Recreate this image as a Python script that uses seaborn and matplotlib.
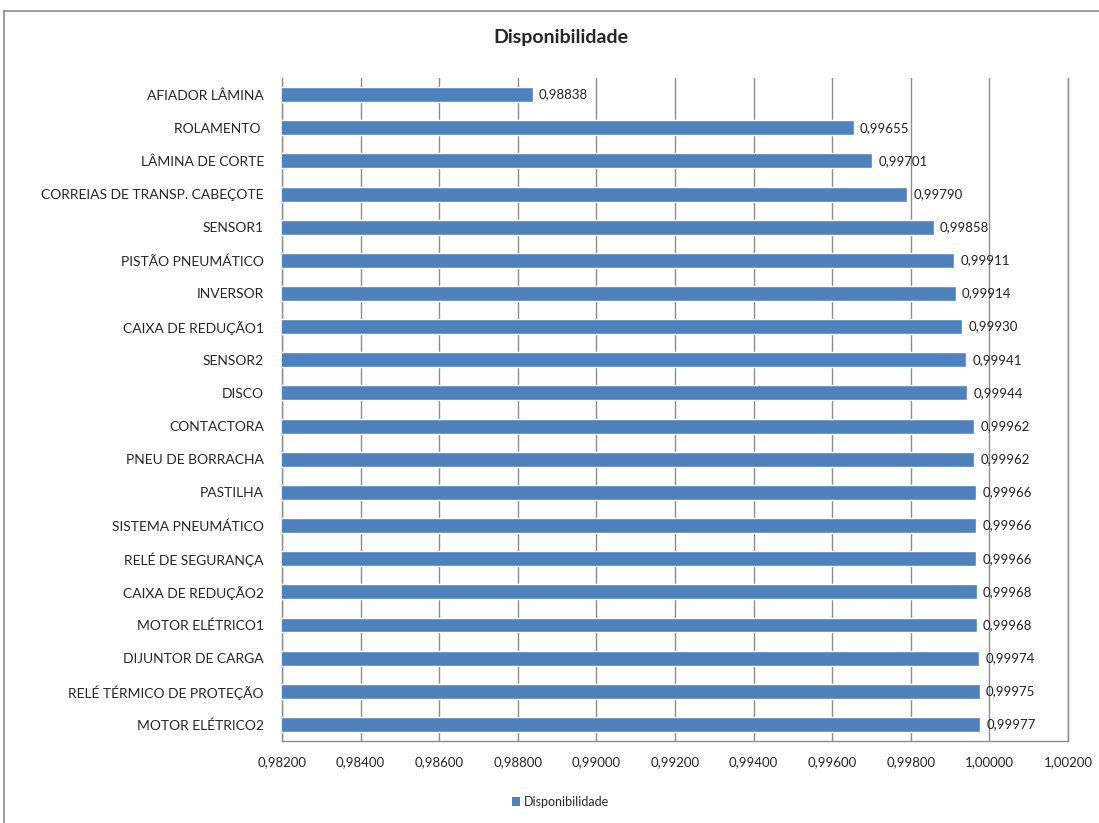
import numpy as np
import pandas as pd
import seaborn as sns
import matplotlib.pyplot as plt
from matplotlib.lines import Line2D
from matplotlib.patches import Patch

# data (top to bottom as in the chart)
categories = [
    'AFIADOR LÂMINA', 'ROLAMENTO ', 'LÂMINA DE CORTE', 'CORREIAS DE TRANSP. CABEÇOTE',
    'SENSOR1', 'PISTÃO PNEUMÁTICO', 'INVERSOR', 'CAIXA DE REDUÇÃO1', 'SENSOR2', 'DISCO',
    'CONTACTORA', 'PNEU DE BORRACHA', 'PASTILHA', 'SISTEMA PNEUMÁTICO', 'RELÉ DE SEGURANÇA',
    'CAIXA DE REDUÇÃO2', 'MOTOR ELÉTRICO1', 'DIJUNTOR DE CARGA', 'RELÉ TÉRMICO DE PROTEÇÃO',
    'MOTOR ELÉTRICO2',
]
disponibilidade = [
    0.98838, 0.99655, 0.99701, 0.99790, 0.99858, 0.99911, 0.99914, 0.99930, 0.99941, 0.99944,
    0.99962, 0.99962, 0.99966, 0.99966, 0.99966, 0.99968, 0.99968, 0.99974, 0.99975, 0.99977,
]
x_ticks = [0.982, 0.984, 0.986, 0.988, 0.990, 0.992, 0.994, 0.996, 0.998, 1.000, 1.002]

bar_color = '#4F81BD'
grid_color = '#8C8C8C'

sns.set_theme(style='white')
plt.rcParams['font.family'] = ['Lato', 'DejaVu Sans']

df = pd.DataFrame({'item': categories, 'Disponibilidade': disponibilidade})

fig = plt.figure(figsize=(10.99, 8.23), dpi=100)
ax = fig.add_axes([0.2566, 0.0996, 0.7152, 0.8056])

sns.barplot(data=df, x='Disponibilidade', y='item', orient='h', color=bar_color,
            saturation=1, width=0.45, ax=ax, zorder=3)

ax.set_xlim(x_ticks[0], x_ticks[-1])
ax.set_ylim(len(categories) - 0.5, -0.5)
ax.set_xticks(x_ticks)
ax.set_xticklabels([f'{t:.5f}'.replace('.', ',') for t in x_ticks], fontsize=9.5)
ax.set_yticks(range(len(categories)))
ax.set_yticklabels(categories, fontsize=10)
ax.set_yticks(np.arange(len(categories) + 1) - 0.5, minor=True)
ax.tick_params(axis='y', which='major', length=0, pad=13)
ax.tick_params(axis='y', which='minor', length=5, direction='out', color=grid_color, width=1)
ax.tick_params(axis='x', which='major', length=5, direction='out', color=grid_color, width=1, pad=6)
ax.set_xlabel('')
ax.set_ylabel('')

ax.grid(axis='x', color=grid_color, linewidth=1, zorder=0)
ax.set_axisbelow(True)
ax.spines['top'].set_visible(False)
for side in ['left', 'bottom', 'right']:
    ax.spines[side].set_color(grid_color)
    ax.spines[side].set_linewidth(1)

# value labels
for i, v in enumerate(disponibilidade):
    ax.text(v + 0.00016, i, f'{v:.5f}'.replace('.', ','), va='center', ha='left',
            fontsize=9.5, color='#222222', zorder=4)

fig.suptitle('Disponibilidade', x=0.51, y=0.965, fontsize=14, fontweight='bold')

handles = [Patch(facecolor=bar_color, edgecolor='none')]
fig.legend(handles, ['Disponibilidade'], loc='center', bbox_to_anchor=(0.51, 0.026),
           frameon=False, fontsize=9, handlelength=0.7, handleheight=0.7, handletextpad=0.3)

# chart border like the spreadsheet frame
fig.add_artist(Line2D([0.0036, 0.0036], [0, 0.9866], color=grid_color, linewidth=1.2,
                      transform=fig.transFigure))
fig.add_artist(Line2D([0.0036, 1], [0.9866, 0.9866], color=grid_color, linewidth=1.2,
                      transform=fig.transFigure))

fig.savefig('out.png', dpi=100)
